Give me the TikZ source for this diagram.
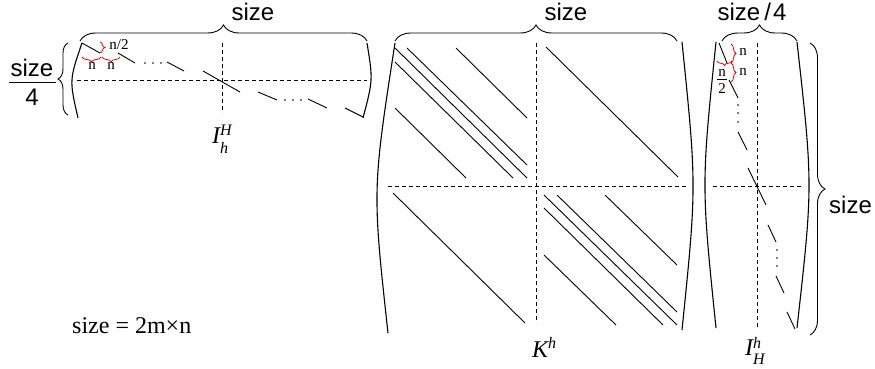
\documentclass[tikz,border=0pt]{standalone}
\usepackage{fontspec}
\setmainfont{Liberation Serif}
\setsansfont{Liberation Sans}
\usetikzlibrary{decorations.pathreplacing}
\begin{document}
\begin{tikzpicture}[x=1pt,y=-1pt,
  gridline/.style={line width=0.8pt, dash pattern=on 4pt off 3pt},
  diag/.style={line width=0.9pt},
  paren/.style={line width=1.1pt},
  bigbrace/.style={line width=0.9pt, decorate, decoration={brace, amplitude=#1}},
  redbrace/.style={red!90!black, line width=0.8pt, decorate, decoration={brace, amplitude=#1}},
  sanslab/.style={font=\sffamily\fontsize{24}{28}\selectfont, inner sep=0pt, anchor=base},
  smalllab/.style={font=\fontsize{15}{17}\selectfont, inner sep=0pt, anchor=base},
  biglab/.style={font=\fontsize{24}{28}\selectfont, inner sep=0pt, anchor=base west},
  dotmark/.style={fill=black, draw=none}
]
\useasboundingbox (0,0) rectangle (875,369);

% ---------- Matrix 1: I_h^H ----------
\draw[paren] (82,43) .. controls (69.3,80) .. (78,118);
\draw[paren] (367,43) .. controls (373,80) .. (363,118);
\draw[bigbrace=16pt] (80,41) -- (367,41);
\node[sanslab] (s1) at (253,20.5) {size};
\draw[bigbrace=10pt] (68,115) -- (68,43);
\node[sanslab] (fnum) at (32,76) {size};
\draw[line width=1pt] (9,82) -- (56,82);
\node[sanslab] (fden) at (32,105) {4};
\draw[gridline] (77,80) -- (367,80);
\draw[gridline] (222,43) -- (222,113);
\draw[diag] (82,43) -- (100,53);
\draw[diag] (118,53) -- (135,63);
\foreach \x in {145,153,161} \fill[dotmark] (\x,63) circle (0.9);
\draw[diag] (167,62) -- (184,71);
\draw[diag] (203,71) -- (240,92);
\draw[diag] (258,92) -- (277,100);
\foreach \x in {285,293,301} \fill[dotmark] (\x,100) circle (0.9);
\draw[diag] (308,99) -- (327,108);
\draw[diag] (345,108) -- (363,117);
\draw[redbrace=5pt] (101,57) -- (82,57);
\draw[redbrace=5pt] (120,57) -- (102,57);
\draw[redbrace=5pt] (100,42) -- (100,53);
\node[smalllab] (n1) at (92,70) {n};
\node[smalllab] (n2) at (111,70) {n};
\node[smalllab] (nh1) at (119,49) {n/2};
\node[biglab] (IhH) at (212,143) {\itshape I\rlap{\raisebox{-10pt}{\fontsize{16}{16}\selectfont h}}\raisebox{8pt}{\fontsize{16}{16}\selectfont H}};

% ---------- Matrix 2: K^h ----------
\draw[paren] (395,43) .. controls (372.3,190) .. (388,333);
\draw[paren] (682,42) .. controls (696.7,186) .. (682,330);
\draw[bigbrace=16pt] (395,41) -- (677,41);
\node[sanslab] (s2) at (566,20.5) {size};
\draw[gridline] (388,186) -- (687,186);
\draw[gridline] (536,43) -- (536,323);
% top-left block
\draw[diag] (395,48) -- (527,178);
\draw[diag] (407,48) -- (527,165);
\draw[diag] (395,62) -- (513,178);
\draw[diag] (456,48) -- (527,118);
\draw[diag] (395,108) -- (466,178);
% top-right block
\draw[diag] (546,47) -- (678,177);
% bottom-left block
\draw[diag] (393,193) -- (525,323);
% bottom-right block
\draw[diag] (544,195) -- (677,325);
\draw[diag] (557,195) -- (677,312);
\draw[diag] (544,208) -- (663,325);
\draw[diag] (605,195) -- (677,265);
\draw[diag] (544,255) -- (616,325);
\node[biglab] (Kh) at (532,357) {\itshape K\raisebox{9pt}{\fontsize{16}{16}\selectfont h}};

% ---------- Matrix 3: I_H^h ----------
\draw[paren] (716,42) .. controls (701.3,185) .. (716,328);
\draw[paren] (797,42) .. controls (813,185) .. (797,328);
\draw[bigbrace=16pt] (722,41) -- (797,41);
\node[sanslab] (s3) at (752,20.5) {size\kern4pt/\kern2pt4};
\draw[bigbrace=15pt] (810,43) -- (810,335);
\node[sanslab, anchor=base west] (s4) at (829,213) {size};
\draw[gridline] (713,186) -- (802,186);
\draw[gridline] (757,43) -- (757,328);
\draw[diag] (719,43) -- (727,63);
\draw[diag] (729,80) -- (738,98);
\foreach \y in {105,113,122} \fill[dotmark] (738,\y) circle (0.9);
\draw[diag] (738,132) -- (747,150);
\draw[diag] (748,168) -- (766,205);
\draw[diag] (768,225) -- (776,242);
\foreach \y in {250,258,266} \fill[dotmark] (777,\y) circle (0.9);
\draw[diag] (776,276) -- (784,293);
\draw[diag] (787,312) -- (795,329);
\draw[redbrace=5pt] (731,44) -- (731,63);
\draw[redbrace=5pt] (731,63) -- (731,82);
\draw[redbrace=4.5pt] (732,61) -- (717,61);
\node[smalllab] (n3) at (743,56) {n};
\node[smalllab] (n4) at (743,75) {n};
\node[smalllab] (nf) at (722,77) {n};
\draw[line width=0.6pt] (717,79.5) -- (727,79.5);
\node[smalllab] (nf2) at (722,93) {2};
\node[biglab] (IHh) at (745,355) {\itshape I\rlap{\raisebox{-9pt}{\fontsize{16}{16}\selectfont H}}\raisebox{7pt}{\fontsize{16}{16}\selectfont h}};

% ---------- formula ----------
\node[biglab] (formula) at (72,333) {size = 2m×n};
\end{tikzpicture}
\end{document}
